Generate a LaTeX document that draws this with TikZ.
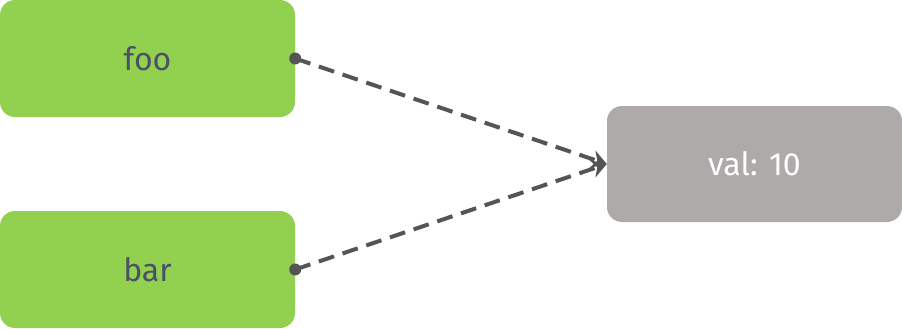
\documentclass[tikz,border=0pt]{standalone}
\usepackage{fontspec}
\setmainfont{Fira Sans}
\usetikzlibrary{arrows.meta}
\definecolor{boxgreen}{HTML}{92D050}
\definecolor{boxgray}{HTML}{AEAAA9}
\definecolor{txtdark}{HTML}{4A5068}
\definecolor{linegray}{HTML}{555555}
\tikzset{
  greenbox/.style={fill=boxgreen, rounded corners=15pt, minimum width=295pt, minimum height=117pt, inner sep=0pt, text=txtdark, font=\fontsize{32}{36}\selectfont},
  graybox/.style={fill=boxgray, rounded corners=15pt, minimum width=295pt, minimum height=116pt, inner sep=0pt, text=white, font=\fontsize{32}{36}\selectfont},
  conn/.style={draw=linegray, line width=4pt, dash pattern=on 16pt off 9pt, -{Stealth[length=15pt,width=18pt,inset=5pt]}},
  dotmark/.style={circle, fill=linegray, inner sep=0pt, minimum size=12pt}
}
\begin{document}
\begin{tikzpicture}[x=1pt,y=-1pt]
\useasboundingbox (0,0) rectangle (902,329);
\node[greenbox] (foo) at (147.5,58.5) {foo};
\node[greenbox] (bar) at (147.5,269.5) {bar};
\node[graybox] (val) at (754.5,164) {val: 10};
\node[dotmark] (d1) at (foo.east) {};
\node[dotmark] (d2) at (bar.east) {};
\draw[conn] (d1.center) -- (val.west);
\draw[conn] (d2.center) -- (val.west);
\end{tikzpicture}
\end{document}
